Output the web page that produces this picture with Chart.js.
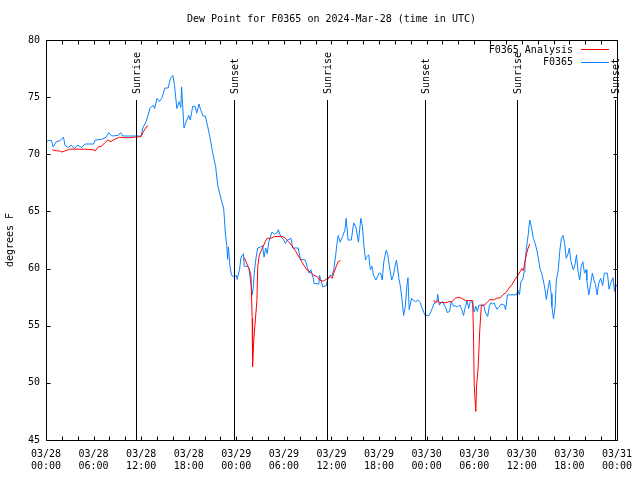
<!DOCTYPE html>
<html>
<head>
<meta charset="utf-8">
<script src="https://cdn.jsdelivr.net/npm/chart.js@4/dist/chart.umd.min.js"></script>
<style>
  html, body { margin: 0; padding: 0; background: #fff; }
  canvas { display: block; }
</style>
</head>
<body>
<canvas id="graphDew" width="640" height="480"></canvas>
<script>
// hours since 03/28 00:00 UTC
const obsHours = [0.1,0.3,0.7,0.9,1.3,1.8,2.2,2.4,2.8,3.2,3.6,4.0,4.5,4.9,6.0,6.2,7.0,7.6,7.9,8.3,9.1,9.4,9.7,11.8,12.0,12.2,12.65,13.1,13.5,13.7,14.0,14.3,14.6,15.0,15.4,15.7,16.0,16.2,16.5,16.8,17.0,17.1,17.4,17.6,18.0,18.2,18.5,18.8,19.0,19.3,19.5,19.8,20.1,20.4,20.7,21.0,21.4,21.65,22.1,22.4,22.5,22.6,22.8,22.9,23.0,23.2,23.4,23.7,24.0,24.1,24.4,24.6,24.9,25.0,25.4,25.6,25.85,26.0,26.15,26.3,26.5,26.7,27.1,27.3,27.5,27.7,27.9,28.1,28.5,28.8,29.1,29.3,29.6,29.9,30.2,30.45,30.9,31.1,31.8,32.1,32.7,32.9,33.2,33.4,33.7,33.8,34.4,34.5,34.7,34.9,35.35,35.5,35.8,36.1,36.3,36.5,36.7,36.85,37.1,37.4,37.7,37.85,38.1,38.5,38.8,39.1,39.4,39.7,39.9,40.1,40.3,40.4,40.7,40.9,41.1,41.3,41.6,42.0,42.2,42.4,42.6,42.9,43.1,43.3,43.6,43.8,44.1,44.2,44.5,44.7,44.9,45.1,45.3,45.5,45.65,45.8,46.1,46.3,46.6,46.9,47.2,47.4,47.8,48.3,48.7,48.9,49.1,49.3,49.4,49.6,49.8,50.0,50.4,50.6,50.9,51.1,51.4,51.6,51.9,52.2,52.45,52.65,52.9,53.1,53.3,53.5,53.8,54.0,54.2,54.4,54.6,55.2,55.4,55.7,55.9,56.1,56.3,56.5,56.85,57.1,57.4,57.8,57.95,58.2,59.35,59.5,59.7,59.9,60.1,60.3,60.4,60.6,60.8,61.0,61.2,61.45,61.65,61.9,62.1,62.3,62.5,62.7,62.9,63.1,63.35,63.5,63.7,63.8,64.0,64.2,64.35,64.6,64.8,65.0,65.2,65.4,65.6,65.8,66.0,66.2,66.5,66.7,66.9,67.1,67.3,67.5,67.7,67.9,68.1,68.2,68.45,68.7,68.9,69.1,69.3,69.5,69.7,69.95,70.2,70.4,70.8,71.0,71.2,71.5,71.7,71.8,72.0];
const obsValues = [71.1,71.2,71.2,70.65,71.1,71.2,71.5,70.8,70.6,70.8,70.5,70.8,70.6,70.9,70.9,71.25,71.3,71.5,71.9,71.6,71.65,71.9,71.6,71.6,71.6,72.3,72.9,74.0,74.3,74.0,74.9,74.6,74.9,75.8,75.8,76.65,76.9,76.05,74.0,74.6,74.1,75.9,72.3,72.7,73.4,73.0,74.2,74.2,73.6,74.4,73.9,73.35,73.35,72.4,71.4,70.2,68.9,67.3,66.0,65.3,64.4,63.2,62.0,60.8,61.9,60.2,59.4,59.3,59.4,59.05,59.9,61.0,61.3,60.2,60.2,60.0,58.6,57.7,58.4,59.9,61.0,61.8,61.9,62.0,61.0,61.8,61.3,62.35,63.2,63.0,63.1,63.4,62.8,62.6,62.2,62.5,62.65,61.8,61.8,60.8,60.75,60.2,59.6,59.9,59.15,58.7,58.65,59.4,58.9,58.4,58.5,59.0,59.4,59.4,60.0,61.0,62.2,62.9,62.3,62.8,63.4,64.4,62.5,62.5,64.0,63.6,62.3,64.4,63.7,61.9,60.75,61.0,61.2,59.9,60.2,59.4,59.0,59.6,59.6,59.0,60.6,61.6,61.2,60.2,59.0,59.4,60.5,60.75,59.15,58.4,57.25,55.9,56.6,58.4,59.2,56.4,57.4,57.25,57.1,57.25,57.0,56.6,55.9,55.9,56.5,56.9,57.0,57.1,57.75,56.8,57.0,57.1,56.6,56.15,56.25,57.1,56.7,56.75,56.65,56.8,56.4,55.9,56.7,57.2,56.5,57.1,57.05,56.2,56.7,56.25,56.8,56.8,56.2,55.8,56.7,57.0,56.9,57.0,56.45,56.6,56.9,56.8,56.4,57.7,57.7,58.1,57.7,58.9,59.0,59.7,60.5,61.9,62.9,64.25,63.7,62.65,62.3,61.6,60.9,60.0,59.6,59.0,58.3,57.3,58.4,59.0,57.8,56.65,55.6,56.65,58.9,59.9,61.6,62.65,62.9,62.2,60.9,61.2,61.8,60.6,59.9,60.3,61.2,59.7,59.0,60.2,60.6,59.6,59.9,59.0,57.7,58.7,59.6,59.0,58.6,57.7,58.7,59.15,58.5,59.6,59.6,58.2,58.7,59.2,58.0,58.7,58.4];

// analysis, null marks the gaps
const anaHours = [0.8,1.3,1.7,2.0,2.4,3.0,3.6,4.2,4.9,5.95,6.2,6.6,7.0,7.4,7.8,8.2,8.6,9.3,9.9,10.5,11.2,12.0,12.3,12.65,12.9,19.0,25.0,25.6,25.85,26.0,26.05,26.2,26.4,26.6,26.7,26.9,27.3,27.65,27.9,28.35,28.8,29.8,30.2,30.6,31.0,31.5,32.0,32.5,32.9,33.4,33.8,34.2,34.5,34.9,35.2,35.5,35.9,36.1,36.3,36.6,36.85,37.15,43.0,48.9,49.1,49.3,49.6,49.9,50.35,50.8,51.2,51.6,52.0,52.45,52.9,53.3,53.8,53.9,54.0,54.2,54.3,54.5,54.7,54.9,55.3,55.7,56.0,56.4,56.85,57.3,57.6,58.0,58.3,58.75,59.2,59.5,59.8,60.0,60.2,60.4,60.6,60.8,61.0];
const anaValues = [70.4,70.3,70.3,70.2,70.3,70.45,70.45,70.45,70.45,70.4,70.3,70.65,70.7,71.0,71.25,71.1,71.3,71.5,71.45,71.45,71.5,71.55,72.0,72.4,72.5,null,60.95,60.0,59.4,55.65,51.4,53.75,55.5,57.2,60.2,61.2,61.8,62.35,62.65,62.65,62.8,62.8,62.65,62.35,62.0,61.5,60.9,60.3,59.9,59.65,59.4,59.3,59.0,58.9,59.0,59.15,59.3,59.15,59.6,60.2,60.6,60.7,null,57.25,57.0,57.2,57.0,57.05,57.0,57.1,57.1,57.4,57.5,57.4,57.2,57.2,57.2,54.6,49.8,47.5,49.8,51.4,54.6,56.8,56.8,57.1,57.3,57.25,57.4,57.45,57.7,57.9,58.2,58.6,59.1,59.4,59.75,60.0,59.8,60.6,61.3,61.8,62.15];

const sunriseHours = [11.4, 35.45, 59.45];
const sunsetHours = [23.7, 47.8, 71.75];
const dayLabels = ['03/28', '03/29', '03/30', '03/31'];

const monoFont = { family: '"DejaVu Sans Mono", monospace', size: 10 };

// marco, marcas hacia dentro, lineas de sol, titulo y leyenda
const overlay = {
    id: 'overlay',
    afterDatasetsDraw(chart) {
        const ctx = chart.ctx;
        const a = chart.chartArea;
        const x = chart.scales.x;
        const y = chart.scales.y;
        const L = Math.round(a.left) + 0.5, R = Math.round(a.right) + 0.5;
        const T = Math.round(a.top) + 0.5, B = Math.round(a.bottom) + 0.5;
        ctx.save();
        ctx.strokeStyle = '#000';
        ctx.fillStyle = '#000';
        ctx.lineWidth = 1;
        ctx.font = '10px "DejaVu Sans Mono", monospace';

        const lineTop = Math.round(a.top + 0.15 * (a.bottom - a.top));
        const drawSun = (h, txt) => {
            const px = Math.round(x.getPixelForValue(h)) + 0.5;
            ctx.beginPath();
            ctx.moveTo(px, lineTop);
            ctx.lineTo(px, B);
            ctx.stroke();
            ctx.save();
            ctx.translate(px + 0.5, lineTop - 6);
            ctx.rotate(-Math.PI / 2);
            ctx.textAlign = 'left';
            ctx.textBaseline = 'middle';
            ctx.fillText(txt, 0, 0);
            ctx.restore();
        };
        sunriseHours.forEach(h => drawSun(h, 'Sunrise'));
        sunsetHours.forEach(h => drawSun(h, 'Sunset'));

        ctx.strokeRect(L, T, R - L, B - T);
        ctx.beginPath();
        for (let v = 45; v <= 80; v += 5) {
            const py = Math.round(y.getPixelForValue(v)) + 0.5;
            ctx.moveTo(L, py); ctx.lineTo(L + 4, py);
            ctx.moveTo(R, py); ctx.lineTo(R - 4, py);
        }
        for (let h = 0; h <= 72; h += 2) {
            const px = Math.round(x.getPixelForValue(h)) + 0.5;
            ctx.moveTo(px, B); ctx.lineTo(px, B - 4);
            ctx.moveTo(px, T); ctx.lineTo(px, T + 4);
        }
        ctx.stroke();

        // titulo
        ctx.textAlign = 'center';
        ctx.textBaseline = 'middle';
        ctx.fillText('Dew Point for F0365 on 2024-Mar-28 (time in UTC)', (a.left + a.right) / 2, 19);

        // leyenda
        chart.data.datasets.forEach((ds, i) => {
            const ly = 50 + i * 12.5;
            ctx.textAlign = 'right';
            ctx.fillStyle = '#000';
            ctx.fillText(ds.label, 573, ly);
            ctx.strokeStyle = ds.borderColor;
            ctx.beginPath();
            ctx.moveTo(581, Math.round(ly) - 0.5);
            ctx.lineTo(609, Math.round(ly) - 0.5);
            ctx.stroke();
        });
        ctx.restore();
    }
};

const graphDew = document.querySelector('#graphDew');
new Chart(graphDew, {
    type: 'line',
    data: {
        datasets: [{
            label: 'F0365 Analysis',
            data: anaHours.map((h, i) => ({ x: h, y: anaValues[i] })),
            borderColor: '#ff0000',
            borderWidth: 1,
            pointRadius: 0,
            tension: 0,
            spanGaps: false
        }, {
            label: 'F0365',
            data: obsHours.map((h, i) => ({ x: h, y: obsValues[i] })),
            borderColor: '#0a84ff',
            borderWidth: 1,
            pointRadius: 0,
            tension: 0
        }]
    },
    options: {
        responsive: false,
        animation: false,
        layout: { padding: { top: 40, right: 20, left: 0, bottom: 0 } },
        plugins: {
            legend: { display: false },
            title: { display: false },
            tooltip: { enabled: false }
        },
        scales: {
            x: {
                type: 'linear',
                min: 0,
                max: 72,
                afterFit(s) { s.height = 40; },
                grid: { display: false, drawTicks: false },
                border: { display: false },
                ticks: {
                    stepSize: 2,
                    autoSkip: false,
                    maxRotation: 0,
                    padding: 8,
                    color: '#000',
                    font: Object.assign({ lineHeight: 1.25 }, monoFont),
                    callback(v) {
                        if (v % 6 !== 0) return '';
                        const hh = v % 24;
                        return [dayLabels[Math.floor(v / 24)], (hh < 10 ? '0' : '') + hh + ':00'];
                    }
                }
            },
            y: {
                min: 45,
                max: 80,
                afterFit(s) { s.width = 46; },
                grid: { display: false, drawTicks: false },
                border: { display: false },
                ticks: { stepSize: 5, padding: 6, color: '#000', font: monoFont },
                title: {
                    display: true,
                    text: 'degrees F',
                    color: '#000',
                    font: monoFont,
                    padding: { top: 4, bottom: 0 }
                }
            }
        }
    },
    plugins: [overlay]
});
</script>
</body>
</html>
